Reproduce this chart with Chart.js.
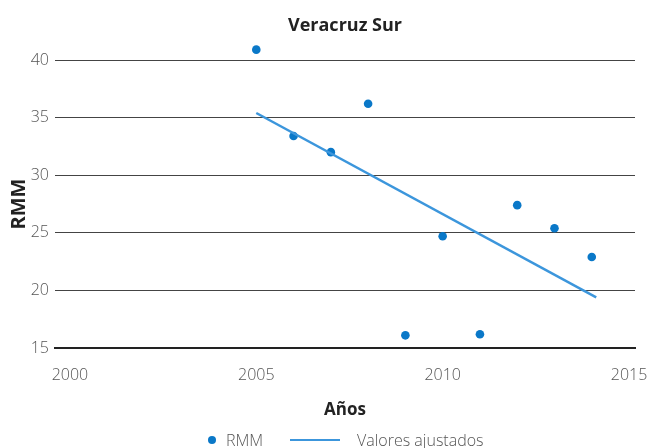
<!DOCTYPE html>
<html>
<head>
<meta charset="utf-8">
<script src="https://cdn.jsdelivr.net/npm/chart.js@4"></script>
<style>
  html, body { margin: 0; padding: 0; background: #fff; }
  #wrap { position: relative; width: 647px; height: 448px; overflow: hidden; }
  #c { position: absolute; left: 0; top: 0; }
  #legend { position: absolute; left: 0; top: 428px; width: 647px; height: 24px;
            font-family: "Open Sans", sans-serif; font-size: 16px; color: #555; font-weight: 300; }
  .lg-item { position: absolute; top: 0; line-height: 24px; white-space: nowrap; }
  .dot { position: absolute; width: 8px; height: 8px; border-radius: 50%; background: #0a78c8; top: 8px; }
  .ln { position: absolute; height: 2px; width: 50px; background: #3c96dc; top: 11px; }
</style>
</head>
<body>
<div id="wrap">
  <canvas id="c" width="647" height="448"></canvas>
  <div id="legend"></div>
</div>
<script>
// Data
const years = [2005, 2006, 2007, 2008, 2009, 2010, 2011, 2012, 2013, 2014];
const rmm = [40.9, 33.4, 32.0, 36.2, 16.1, 24.7, 16.2, 27.4, 25.4, 22.9];
const fitYears = [2005, 2014.12];
const fitValues = [35.4, 19.4];
const xTicks = [2000, 2005, 2010, 2015];
const yTicks = [15, 20, 25, 30, 35, 40];
const seriesNames = ['RMM', 'Valores ajustados'];
const titleText = 'Veracruz Sur';
const xTitle = 'Años';
const yTitle = 'RMM';

const pointColor = '#0a78c8';
const lineColor = '#3c96dc';
const FONT = '"Open Sans", sans-serif';

const ctx = document.getElementById('c').getContext('2d');
const chart = new Chart(ctx, {
  type: 'scatter',
  data: {
    datasets: [
      {
        label: seriesNames[0],
        data: years.map((x, i) => ({ x: x, y: rmm[i] })),
        backgroundColor: pointColor,
        borderColor: pointColor,
        pointRadius: 4.3,
        pointHoverRadius: 12,
        borderWidth: 0,
        showLine: false,
        clip: false,
        order: 1
      },
      {
        type: 'line',
        label: seriesNames[1],
        data: fitYears.map((x, i) => ({ x: x, y: fitValues[i] })),
        borderColor: lineColor,
        backgroundColor: lineColor,
        borderWidth: 2.5,
        pointRadius: 0,
        showLine: true,
        fill: false,
        clip: false,
        order: 0
      }
    ]
  },
  options: {
    responsive: false,
    animation: false,
    events: [],
    layout: { padding: { top: 0, right: 10, bottom: 20, left: 0 } },
    plugins: {
      legend: { display: false },
      tooltip: { enabled: false },
      title: {
        display: true,
        text: titleText,
        fullSize: false,
        color: '#222',
        font: { family: FONT, size: 18, weight: 'bold', lineHeight: 1.2 },
        padding: { top: 15.2, bottom: 23.2 }
      }
    },
    scales: {
      x: {
        type: 'linear',
        min: 1999.6,
        max: 2015.16,
        afterBuildTicks: (scale) => { scale.ticks = xTicks.map(v => ({ value: v })); },
        afterFit: (scale) => { scale.height = 80; scale.paddingLeft = 0; scale.paddingRight = 0; },
        grid: { display: false, drawTicks: false },
        border: { display: true, color: '#222', width: 2 },
        ticks: {
          color: '#555',
          font: { family: FONT, size: 16, weight: '300' },
          padding: 18,
          maxRotation: 0,
          autoSkip: false,
          callback: (v) => String(v)
        },
        title: {
          display: true,
          text: xTitle,
          color: '#222',
          font: { family: FONT, size: 17, weight: 'bold', lineHeight: 1.2 },
          padding: { top: 0, bottom: 7.8 }
        }
      },
      y: {
        type: 'linear',
        min: 15,
        max: 40,
        afterBuildTicks: (scale) => { scale.ticks = yTicks.map(v => ({ value: v })); },
        afterFit: (scale) => { scale.width = 55; },
        grid: { color: '#444', lineWidth: 1, drawTicks: false },
        border: { display: false },
        ticks: {
          color: '#555',
          font: { family: FONT, size: 16, weight: '300' },
          padding: 6,
          callback: (v) => String(v)
        },
        title: {
          display: true,
          text: yTitle,
          color: '#222',
          font: { family: FONT, size: 20, weight: 'bold', lineHeight: 1.2 },
          padding: { top: 7, bottom: 0 }
        }
      }
    }
  }
});

// Legend (HTML, real text)
const legend = document.getElementById('legend');
const items = [
  { kind: 'dot', markX: 208, textX: 226, text: seriesNames[0] },
  { kind: 'ln', markX: 290, textX: 357, text: seriesNames[1] }
];
items.forEach(it => {
  const m = document.createElement('span');
  m.className = it.kind;
  m.style.left = it.markX + 'px';
  legend.appendChild(m);
  const t = document.createElement('span');
  t.className = 'lg-item';
  t.style.left = it.textX + 'px';
  t.textContent = it.text;
  legend.appendChild(t);
});
</script>
</body>
</html>
